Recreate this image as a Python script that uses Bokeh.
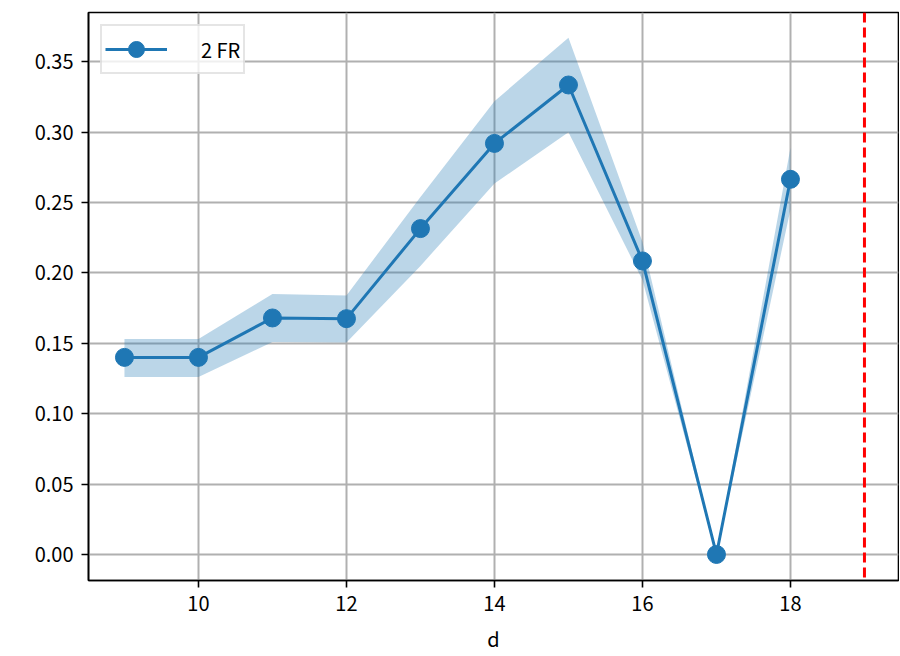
from bokeh.plotting import figure
from bokeh.models import Range1d, FixedTicker, PrintfTickFormatter, Span
from bokeh.embed import file_html
from bokeh.resources import INLINE

# data
d = [9, 10, 11, 12, 13, 14, 15, 16, 17, 18]
fr_mean = [0.140, 0.140, 0.168, 0.1675, 0.2315, 0.292, 0.3335, 0.2085, 0.0, 0.2665]
fr_lower = [0.126, 0.126, 0.151, 0.1505, 0.205, 0.2635, 0.300, 0.195, 0.0, 0.245]
fr_upper = [0.153, 0.153, 0.185, 0.184, 0.254, 0.322, 0.367, 0.222, 0.0, 0.289]
series_label = "2 FR"
x_label = "d"
limit_d = 19
x_ticks = [10, 12, 14, 16, 18]
y_ticks = [0.0, 0.05, 0.10, 0.15, 0.20, 0.25, 0.30, 0.35]

FONT = "Noto Sans CJK JP"
BLUE = "#1f77b4"

p = figure(width=899, height=655, output_backend="svg", toolbar_location=None,
           x_range=Range1d(8.514, 19.46), y_range=Range1d(-0.0185, 0.385),
           min_border_left=88, min_border_right=1, min_border_top=12, min_border_bottom=75)

p.background_fill_color = "white"
p.border_fill_color = "white"
p.outline_line_color = "black"
p.outline_line_width = 1.6

p.varea(x=d, y1=fr_lower, y2=fr_upper, fill_color=BLUE, fill_alpha=0.3)
p.line(d, fr_mean, line_color=BLUE, line_width=3, legend_label=series_label)
p.scatter(d, fr_mean, size=18, fill_color=BLUE, line_color=BLUE, legend_label=series_label)

p.add_layout(Span(location=limit_d, dimension="height", line_color="red",
                  line_width=3, line_dash="10 5"))

for ax in (p.xaxis[0], p.yaxis[0]):
    ax.axis_line_color = "black"
    ax.axis_line_width = 1.6
    ax.major_tick_out = 7
    ax.major_tick_in = 0
    ax.major_tick_line_width = 1.6
    ax.minor_tick_out = 0
    ax.minor_tick_in = 0
    ax.major_label_text_font = FONT
    ax.major_label_text_font_size = "20px"
    ax.major_label_text_color = "black"
    ax.major_label_standoff = 8

p.xaxis.ticker = FixedTicker(ticks=x_ticks)
p.yaxis.ticker = FixedTicker(ticks=y_ticks)
p.yaxis.formatter = PrintfTickFormatter(format="%.2f")
p.xaxis.axis_label = x_label
p.xaxis.axis_label_text_font = FONT
p.xaxis.axis_label_text_font_size = "20px"
p.xaxis.axis_label_text_font_style = "normal"
p.xaxis.axis_label_text_color = "black"
p.xaxis.axis_label_standoff = 10

p.grid.grid_line_color = "#b0b0b0"
p.grid.grid_line_width = 2

lg = p.legend[0]
lg.location = "top_left"
lg.margin = 12
lg.padding = 3
lg.glyph_width = 62
lg.glyph_height = 40
lg.label_standoff = 34
lg.label_text_font = FONT
lg.label_text_font_size = "20px"
lg.label_text_color = "black"
lg.border_line_color = "#cccccc"
lg.border_line_width = 2
lg.background_fill_alpha = 0.8

open("out.html", "w").write(file_html(p, INLINE))
